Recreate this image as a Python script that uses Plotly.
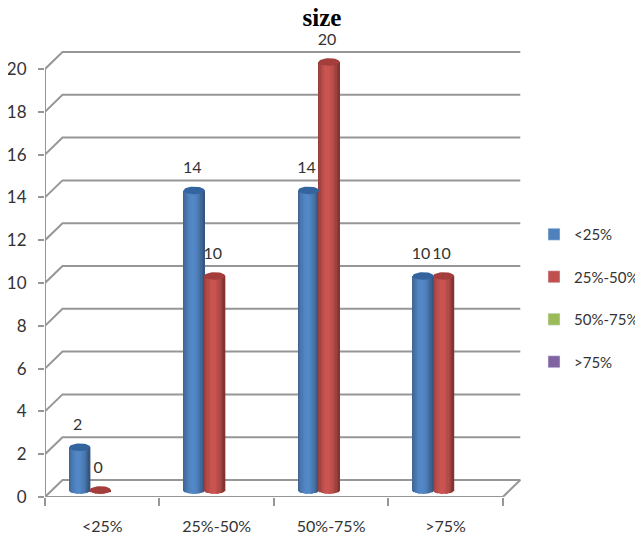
import numpy as np
import plotly.graph_objects as go

categories = ["<25%", "25%-50%", "50%-75%", ">75%"]
series_names = ["<25%", "25%-50%", "50%-75%", ">75%"]
values_a = [2, 14, 14, 10]
values_b = [0, 10, 20, 10]
values_c = [None, None, None, None]
values_d = [None, None, None, None]
colors = ["#4f81bd", "#c0504d", "#9bbb59", "#8064a2"]
caps = ["#33649e", "#a33e3c"]
y_ticks = list(range(0, 21, 2))
FONT = "Lato, Liberation Sans, sans-serif"
TXT = "#333333"
GRID = "#969696"

PX_X, PX_Y = 114.5, 21.4          # pixels per x / y unit
dx, dy = 17.5 / PX_X, 17 / PX_Y   # depth of the floor
xs = np.arange(len(categories))
lift = 7 / PX_Y                   # bars stand mid-way on the floor
bar_w = 21 / PX_X
ry = 3.8 / PX_Y


def shade(hex_c, f):
    r, g, b = (int(hex_c[i:i + 2], 16) for i in (1, 3, 5))
    c = [min(255, int(v * f)) for v in (r, g, b)]
    return f"rgb({c[0]},{c[1]},{c[2]})"


fig = go.Figure()

# back wall + side gridlines, on the base axes so bars paint over them
for v in y_ticks:
    fig.add_trace(go.Scatter(
        x=[-0.5, -0.5 + dx, 3.5 + dx] + ([3.5] if v == 0 else []),
        y=[v, v + dy, v + dy] + ([0] if v == 0 else []),
        mode="lines", line=dict(color=GRID, width=2), showlegend=False, hoverinfo="skip"))
fig.add_trace(go.Scatter(x=[-0.5, -0.5, 3.5], y=[y_ticks[-1], 0, 0], mode="lines",
                         line=dict(color=GRID, width=2), showlegend=False, hoverinfo="skip"))

# cylinders
N = 17
for vals, color, cap, centre in ((values_a, colors[0], caps[0], -22.5 / PX_X),
                                 (values_b, colors[1], caps[1], -2 / PX_X)):
    for i in range(N):
        t = (i + 0.5) / N * 2 - 1
        f = 1.06 - 0.36 * abs(t + 0.1) ** 1.8
        drop = ry * np.sqrt(1 - t * t)
        fig.add_trace(go.Bar(
            x=xs, y=[v + drop for v in vals], base=[lift - drop] * len(vals),
            offset=centre + t * bar_w / 2 - bar_w / N / 2 - 0.0005, width=bar_w / N + 0.002,
            marker=dict(color=shade(color, f), line=dict(width=0)),
            showlegend=False, hoverinfo="skip", xaxis="x2", yaxis="y2"))
    ex, ey = [], []
    th = np.linspace(0, 2 * np.pi, 40)
    for x0, v in zip(xs, vals):
        ex += list(x0 + centre + bar_w / 2 * np.cos(th)) + [None]
        ey += list(v + lift + ry * np.sin(th)) + [None]
    fig.add_trace(go.Scatter(x=ex, y=ey, mode="lines", fill="toself", fillcolor=cap,
                             line=dict(width=0, color=cap), showlegend=False,
                             hoverinfo="skip", xaxis="x2", yaxis="y2"))
    fig.add_trace(go.Scatter(
        x=xs + centre - 2 / PX_X, y=[v + lift + 21 / PX_Y for v in vals], text=[str(v) for v in vals],
        mode="text", textfont=dict(family=FONT, size=16, color=TXT), cliponaxis=False,
        showlegend=False, hoverinfo="skip", xaxis="x2", yaxis="y2"))

# legend entries
for name, vals, color in zip(series_names, (values_a, values_b, values_c, values_d), colors):
    fig.add_trace(go.Bar(x=xs, y=[None] * 4, name=name, legendgroup=name,
                         marker=dict(color=color), xaxis="x2", yaxis="y2"))

x_range = [-0.5, 3.694]
y_range = [0, 469 / PX_Y]
fig.update_layout(
    width=635, height=539, autosize=False,
    margin=dict(l=37, r=118, t=20, b=50, autoexpand=False),
    paper_bgcolor="white", plot_bgcolor="white",
    barmode="overlay",
    title=dict(text="<b>size</b>", x=314 / 635, xanchor="center", y=1 - 9 / 539, yanchor="middle",
               font=dict(family="Liberation Serif, serif", size=25, color="#000000")),
    font=dict(family=FONT, size=16, color=TXT),
    xaxis=dict(range=x_range, tickmode="array", tickvals=list(xs), ticktext=categories,
               ticks="", showgrid=False, zeroline=False, showline=False, ticklabelstandoff=18,
               automargin=False, tickfont=dict(family=FONT, size=16, color=TXT),
               minor=dict(tickmode="array", tickvals=[-0.5, 0.5, 1.5, 2.5, 3.5], ticks="outside",
                          ticklen=8, tickwidth=2, tickcolor=GRID, showgrid=False)),
    yaxis=dict(range=y_range, tickmode="array", tickvals=y_ticks, ticks="outside", ticklen=6,
               tickwidth=2, tickcolor=GRID, showgrid=False, zeroline=False, showline=False,
               automargin=False, ticklabelstandoff=8, tickfont=dict(family=FONT, size=17, color=TXT)),
    xaxis2=dict(range=x_range, overlaying="x", visible=False, matches="x", automargin=False),
    yaxis2=dict(range=y_range, overlaying="y", visible=False, matches="y", automargin=False),
    legend=dict(x=526 / 635, xref="container", y=1 - 210 / 539, yref="container", yanchor="top",
                xanchor="left", tracegroupgap=20, itemclick=False, itemdoubleclick=False,
                font=dict(family=FONT, size=15, color=TXT), bgcolor="rgba(0,0,0,0)"),
)
fig.write_html("out.html")
